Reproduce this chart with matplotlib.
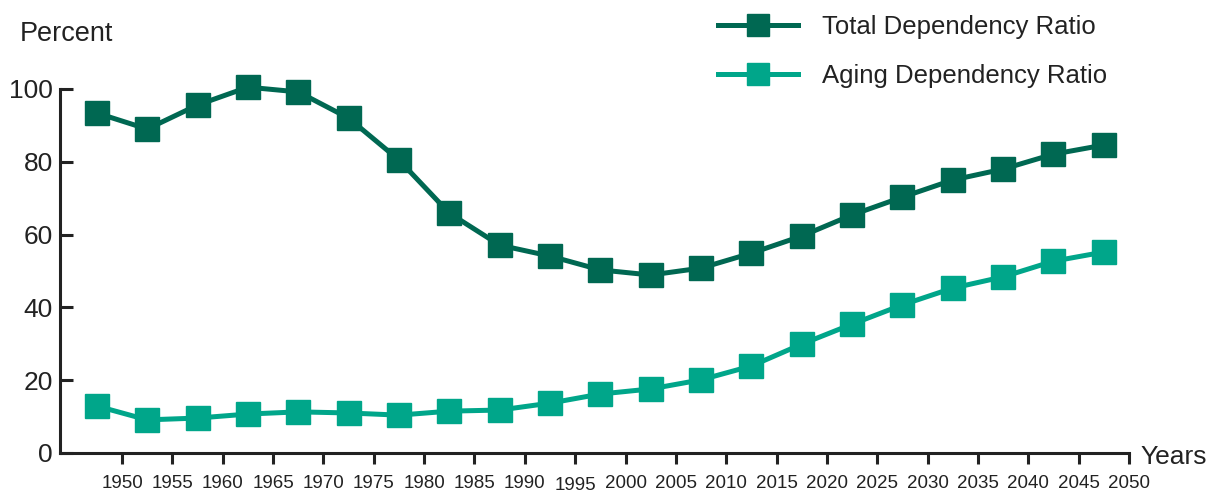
import matplotlib
matplotlib.use("Agg")
import matplotlib.pyplot as plt
import matplotlib.transforms as mtransforms

years = list(range(1950, 2051, 5))
total_ratio = [93.4, 89.0, 95.6, 100.5, 99.2, 92.0, 80.5, 65.9, 57.1, 54.1, 50.3,
               48.9, 50.8, 54.9, 59.6, 65.4, 70.3, 75.0, 78.0, 82.1, 84.6]
aging_ratio = [12.9, 9.1, 9.6, 10.7, 11.3, 11.0, 10.4, 11.5, 11.8, 13.7, 16.2,
               17.6, 20.1, 23.9, 29.9, 35.4, 40.7, 45.3, 48.4, 52.7, 55.2]
series_names = ["Total Dependency Ratio", "Aging Dependency Ratio"]
yticks = [0, 20, 40, 60, 80, 100]

dark = "#006852"
teal = "#00a68a"
font = "Liberation Sans"
plt.rcParams["font.family"] = [font, "DejaVu Sans"]

fig = plt.figure(figsize=(12.12, 4.93), dpi=100)
ax = fig.add_axes([60/1212, 1-453/493, 1069/1212, (453-89)/493])

xpos = [y - 2.5 for y in years]
ax.plot(xpos, total_ratio, color=dark, lw=3.6, marker="s", ms=17,
        mec=dark, clip_on=False, zorder=3, label=series_names[0])
ax.plot(xpos, aging_ratio, color=teal, lw=3.6, marker="s", ms=17,
        mec=teal, clip_on=False, zorder=3, label=series_names[1])

ax.set_xlim(1943.84, 2050)
ax.set_ylim(0, 100)
for s in ["top", "right"]:
    ax.spines[s].set_visible(False)
for s in ["left", "bottom"]:
    ax.spines[s].set_linewidth(2.2)
    ax.spines[s].set_color("#222222")

ax.set_xticks(years)
ax.set_xticklabels([str(y) for y in years], fontsize=13.5, color="#222222")
ax.set_yticks(yticks)
ax.set_yticklabels([str(v) for v in yticks], fontsize=19, color="#222222")
ax.tick_params(axis="x", direction="out", length=8, width=2.2, color="#222222", pad=7.5)
ax.tick_params(axis="y", direction="in", length=9, width=2.2, color="#222222", pad=5)

# 1995 label slightly lower as in reference
for lab in ax.get_xticklabels():
    if lab.get_text() == "1995":
        lab.set_transform(lab.get_transform() + mtransforms.ScaledTranslation(0, -2.5/100, fig.dpi_scale_trans))

fig.text(20/1212, 1-34/493, "Percent", fontsize=19.5, color="#222222", va="center", ha="left")
fig.text(1140/1212, 1-457/493, "Years", fontsize=19, color="#222222", va="center", ha="left")

leg = fig.legend(loc="upper left", bbox_to_anchor=(708/1212, 1-5/493), frameon=False,
                 fontsize=18.5, handlelength=3.1, handletextpad=0.95, labelspacing=0.95,
                 markerscale=0.95, borderaxespad=0)
for t in leg.get_texts():
    t.set_color("#222222")

fig.savefig("out.png", dpi=100)
